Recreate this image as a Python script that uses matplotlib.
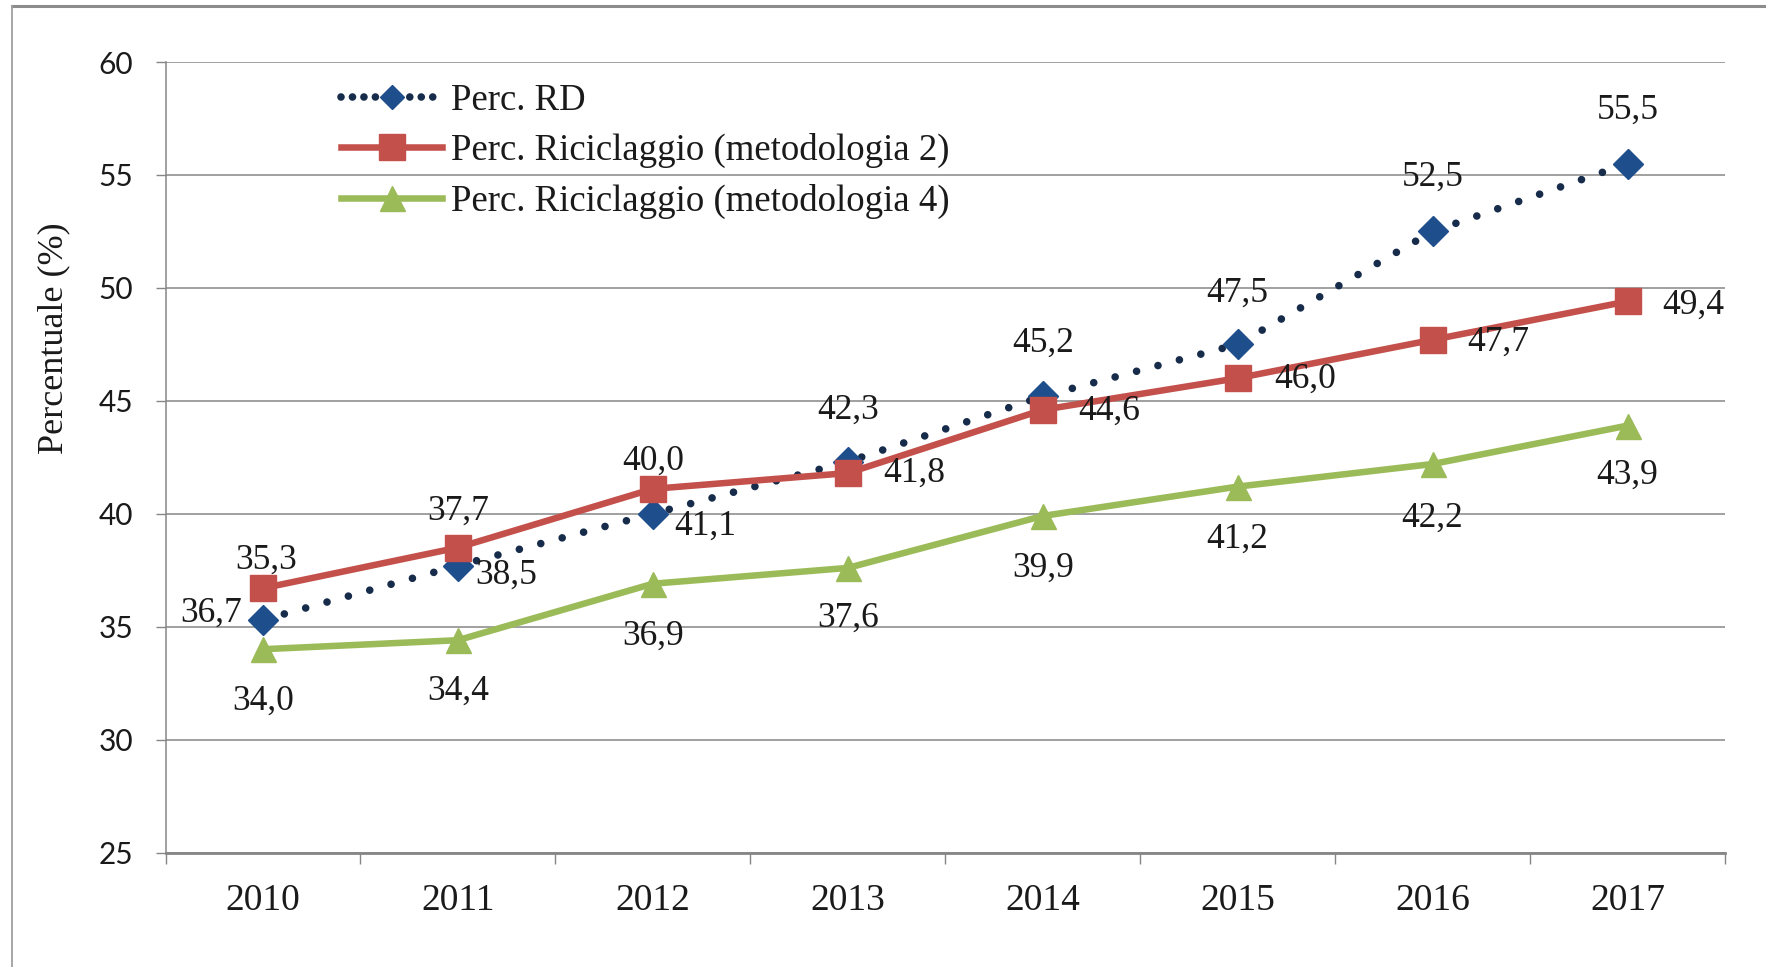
import matplotlib
matplotlib.use('Agg')
import matplotlib.pyplot as plt
from matplotlib.lines import Line2D
import numpy as np

# ---------------- data ----------------
years = ['2010', '2011', '2012', '2013', '2014', '2015', '2016', '2017']
perc_rd = [35.3, 37.7, 40.0, 42.3, 45.2, 47.5, 52.5, 55.5]
ric_m2 = [36.7, 38.5, 41.1, 41.8, 44.6, 46.0, 47.7, 49.4]
ric_m4 = [34.0, 34.4, 36.9, 37.6, 39.9, 41.2, 42.2, 43.9]
series_names = ['Perc. RD',
                'Perc. Riciclaggio (metodologia 2)',
                'Perc. Riciclaggio (metodologia 4)']
y_label = 'Percentuale (%)'
y_ticks = [25, 30, 35, 40, 45, 50, 55, 60]

# label offsets (points) - style only
off_rd = [(2, 43), (0, 39), (0, 37.5), (0, 37), (0, 38), (0, 37), (0, 39), (0, 38.6)]
off_m2 = [(-37, -18), (34.5, -20), (37.5, -27), (48, 0), (48, -1), (48.5, -1), (47.5, -1.5), (47.5, -2.5)]
off_m4 = [(0, -37.8), (0, -37), (0, -38), (0, -36), (0, -37.6), (0, -38), (0, -39), (0, -36)]

SERIF = ['Liberation Serif', 'DejaVu Serif']
SANS = ['Lato', 'DejaVu Sans']

W, H = 1766, 967
fig = plt.figure(figsize=(W / 100, H / 100), dpi=100)
fig.patch.set_facecolor('white')

L, R, T, B = 165.5, 1725, 62, 852.5
ax = fig.add_axes([L / W, 1 - B / H, (R - L) / W, (B - T) / H])

x = np.arange(len(years))
C_BLUE_M = '#1F4E8C'
C_BLUE_L = '#172C4A'
C_RED = '#C4504C'
C_GREEN = '#9BBB59'
GRID = '#868686'
TXT = '#1a1a1a'

# blue dotted line + diamonds
ax.plot(x, perc_rd, color=C_BLUE_L, lw=5.5, linestyle=(0, (0.001, 2.9)),
        dash_capstyle='round', solid_capstyle='round', zorder=3)
ax.plot(x, perc_rd, linestyle='none', marker='D', ms=15.5, color=C_BLUE_M,
        mec=C_BLUE_M, zorder=4)
# red
ax.plot(x, ric_m2, color=C_RED, lw=4.7, marker='s', ms=19, mec=C_RED, zorder=5)
# green
ax.plot(x, ric_m4, color=C_GREEN, lw=4.7, marker='^', ms=18, mec=C_GREEN, zorder=5)

def fmt(v):
    return f"{v:.1f}".replace('.', ',')

for vals, offs in ((perc_rd, off_rd), (ric_m2, off_m2), (ric_m4, off_m4)):
    for i, (v, o) in enumerate(zip(vals, offs)):
        ax.annotate(fmt(v), xy=(i, v), xytext=o, textcoords='offset points',
                    ha='center', va='center', fontsize=25.5, family=SERIF,
                    color=TXT, zorder=6)

ax.set_xlim(-0.5, len(years) - 0.5)
ax.set_ylim(y_ticks[0], y_ticks[-1])

# y axis
ax.set_yticks(y_ticks)
ax.set_yticklabels([str(t) for t in y_ticks], fontsize=21.5, family=SANS, color=TXT)
ax.tick_params(axis='y', length=7.2, width=1, color=GRID, pad=16)
ax.yaxis.grid(True, color=GRID, lw=1.1)
ax.set_axisbelow(True)

# x axis: boundary ticks + centred labels
ax.set_xticks(np.arange(-0.5, len(years), 1.0))
ax.set_xticklabels([])
ax.tick_params(axis='x', which='major', length=8, width=1, color=GRID)
ax.set_xticks(x, minor=True)
ax.set_xticklabels(years, minor=True, fontsize=27, family=SERIF, color=TXT)
ax.tick_params(axis='x', which='minor', length=0, pad=22)

for s in ('top', 'right'):
    ax.spines[s].set_visible(False)
ax.spines['left'].set_color(GRID)
ax.spines['left'].set_linewidth(1.1)
ax.spines['bottom'].set_color(GRID)
ax.spines['bottom'].set_linewidth(2.0)

ax.set_ylabel(y_label, fontsize=26, family=SERIF, color=TXT)
ax.yaxis.set_label_coords((70 - L) / (R - L), 0.5 + ((B + T) / 2 - 338) / (B - T))

# legend
handles = [
    Line2D([], [], color=C_BLUE_L, lw=5.5, linestyle=(0, (0.001, 1.5)),
           dash_capstyle='round', marker='D', ms=12, markerfacecolor=C_BLUE_M,
           mec=C_BLUE_M),
    Line2D([], [], color=C_RED, lw=4.7, marker='s', ms=19, mec=C_RED),
    Line2D([], [], color=C_GREEN, lw=4.7, marker='^', ms=18, mec=C_GREEN),
]
leg = ax.legend(handles, series_names, loc='upper left',
                bbox_to_anchor=((341 - L) / (R - L), 1 - (83 - T) / (B - T)),
                frameon=False, borderpad=0, borderaxespad=0, numpoints=1,
                handlelength=2.75, handletextpad=0.25, labelspacing=0.43,
                prop={'family': SERIF, 'size': 26.5})
for t in leg.get_texts():
    t.set_color(TXT)

# outer frame lines (top and left)
fig.add_artist(Line2D([12 / W, 1], [1 - 6 / H, 1 - 6 / H], color='#8c8c8c', lw=2.2,
                      transform=fig.transFigure))
fig.add_artist(Line2D([12 / W, 12 / W], [0, 1 - 6 / H], color='#a0a0a0', lw=1.3,
                      transform=fig.transFigure))

fig.savefig('out.png', dpi=100, facecolor='white')
